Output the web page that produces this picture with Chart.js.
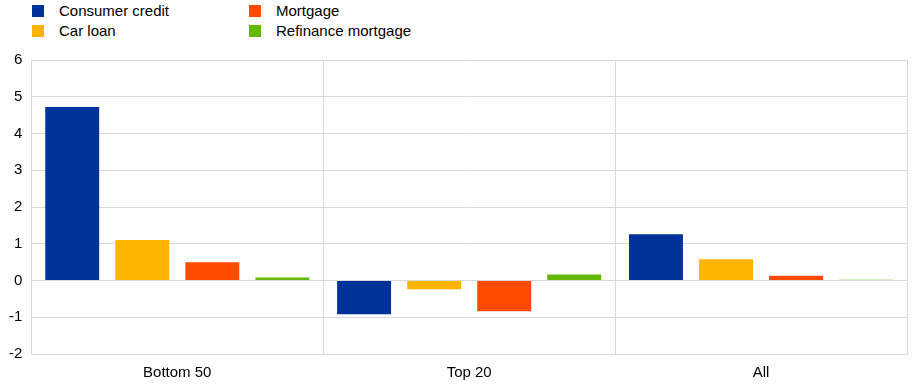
<!DOCTYPE html>
<html>
<head>
<meta charset="utf-8">
<script src="https://cdn.jsdelivr.net/npm/chart.js@4/dist/chart.umd.min.js"></script>
<style>
  html, body { margin: 0; padding: 0; background: #fff; }
  body { width: 921px; height: 392px; position: relative; overflow: hidden;
         font-family: Arial, "Liberation Sans", sans-serif; }
  #legend { position: absolute; left: 0; top: 0; width: 921px; height: 42px; }
  .item { position: absolute; font-size: 15px; color: #000; line-height: 16px; white-space: nowrap; }
  .item i { position: absolute; left: -27px; top: 2px; width: 12px; height: 12px; }
  #wrap { position: absolute; left: 0; top: 42px; width: 921px; height: 350px; }
</style>
</head>
<body>
<div id="legend"></div>
<div id="wrap"><canvas id="c"></canvas></div>
<script>
const categories = ['Bottom 50', 'Top 20', 'All'];
const seriesNames = ['Consumer credit', 'Car loan', 'Mortgage', 'Refinance mortgage'];
const seriesColors = ['#003299', '#FFB400', '#FF4B00', '#65B800'];
const consumerCredit = [4.72, -0.92, 1.26];
const carLoan        = [1.10, -0.24, 0.58];
const mortgage       = [0.50, -0.84, 0.13];
const refinance      = [0.08, 0.16, 0.02];
const yTicks = [-2, -1, 0, 1, 2, 3, 4, 5, 6];

const values = [consumerCredit, carLoan, mortgage, refinance];

// legend: two columns, two rows
const legendPos = [[59, 3], [59, 23], [276, 3], [276, 23]];
const legendOrder = [0, 1, 2, 3];
document.getElementById('legend').innerHTML = legendOrder.map((s, k) => `
  <div class="item" style="left:${legendPos[k][0]}px;top:${legendPos[k][1]}px">
    <i style="background:${seriesColors[s]}"></i>${seriesNames[s]}
  </div>`).join('');

new Chart(document.getElementById('c'), {
    type: 'bar',
    data: {
        labels: categories,
        datasets: values.map((d, i) => ({
            label: seriesNames[i],
            data: d,
            backgroundColor: seriesColors[i],
            borderWidth: 0,
            barPercentage: 0.77,
            categoryPercentage: 0.96,
        }))
    },
    options: {
        responsive: true,
        maintainAspectRatio: false,
        animation: false,
        layout: { padding: { top: 0, right: 14, left: 0, bottom: 0 } },
        plugins: { legend: { display: false }, tooltip: { enabled: false } },
        scales: {
            x: {
                grid: { color: '#d9d9d9', offset: true, drawTicks: false },
                border: { color: '#d9d9d9' },
                ticks: { color: '#000', font: { size: 15, family: 'Arial' }, padding: 10 }
            },
            y: {
                min: yTicks[0], max: yTicks[yTicks.length - 1],
                afterBuildTicks: ax => { ax.ticks = yTicks.map(v => ({ value: v })); },
                grid: { color: '#d9d9d9', drawTicks: false },
                border: { color: '#d9d9d9' },
                ticks: { color: '#000', font: { size: 15, family: 'Arial' }, padding: 9 }
            }
        }
    }
});
</script>
</body>
</html>
